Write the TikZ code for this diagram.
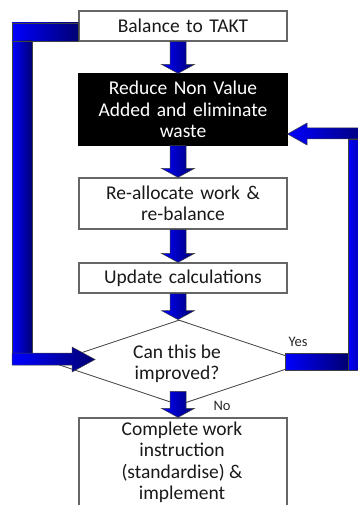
\documentclass[tikz,border=0pt]{standalone}
\usepackage{fontspec}
\setmainfont{Carlito}
\usetikzlibrary{calc,shapes.geometric}
\tikzset{
  txt/.style={font=\fontsize{19.5}{21.5}\selectfont, text=black!90},
  box/.style={draw=black!60, line width=1.2pt, fill=white, minimum width=208pt,
    text width=204pt, align=center, txt, inner sep=0pt},
  blackbox/.style={box, fill=black, draw=black, text=white},
  decision/.style={draw=black!75, line width=0.8pt, fill=white, shape=diamond,
    minimum width=254pt, minimum height=85pt, inner sep=0pt},
  band/.style={draw=black!75, line width=0.5pt, left color=blue, right color=blue!45!black},
  lbl/.style={font=\fontsize{14.5}{16}\selectfont, text=black!85, inner sep=0pt},
}
\newcommand\vblk[2]{%
  \path #1 coordinate (s) #2 coordinate (e);
  \draw[band] ($(s)+(-8,0)$) -- ($(s)+(8,0)$) -- ($(e)+(8,-9)$) -- ($(e)+(16.5,-9)$)
    -- (e) -- ($(e)+(-16.5,-9)$) -- ($(e)+(-8,-9)$) -- cycle;}
\begin{document}
\begin{tikzpicture}[x=1pt,y=-1pt]
\useasboundingbox (0,0) rectangle (358,505);
\begin{scope}
\clip (0,0) rectangle (358,505);
% nodes
\node[box, minimum height=30pt] (b1) at (183,26) {Balance to TAKT};
\node[blackbox, minimum height=71pt] (b2) at (183,109.5) {Reduce Non Value\\Added and eliminate\\waste};
\node[box, minimum height=51pt] (b3) at (183,203.5) {Re-allocate work \&\\re-balance};
\node[box, minimum height=30pt] (b4) at (183,278) {Update calculations};
\node[decision] (d) at (179,362.5) {};
\node[align=center, txt, inner sep=0pt] (dt) at (177,364) {Can this be\\improved?};
\node[draw=black!60, line width=1.2pt, fill=white, minimum width=208pt, minimum height=97pt] (b5) at (183,466.5) {};
\node[align=center, txt, inner sep=0pt] (b5t) at (182,462.5) {Complete work\\instruction\\(standardise) \&\\implement};
\coordinate (ax) at (178,0);
% vertical block arrows
\vblk{(ax |- b1.south)}{(ax |- b2.north)}
\vblk{(ax |- b2.south)}{(ax |- b3.north)}
\vblk{(ax |- b3.south)}{(ax |- b4.north)}
\vblk{(ax |- b4.south)}{(ax |- d.north)}
\coordinate (dn) at ($(ax |- b5.north)+(0,-26)$);
\vblk{(dn)}{(ax |- b5.north)}
% left loop (back to the decision)
\draw[band] (12,23) rectangle (b1.west |- 0,41);
\draw[band] (12,41) rectangle (32,353);
\draw[band] (12,353) -- (72,353) -- (72,347) -- (95,359.5) -- (72,372) -- (72,365) -- (12,365) -- cycle;
% right loop (Yes)
\draw[band] (285,353) rectangle (348,370);
\draw[band] (348,139) rectangle (370,370);
\draw[band] (b2.east |- 0,134) -- (307,123) -- (307,128) -- (370,128) -- (370,139) -- (307,139) -- (307,145) -- cycle;
% labels
\node[lbl] (yes) at (298,342) {Yes};
\node[lbl] (no) at (222,406) {No};
\end{scope}
\end{tikzpicture}
\end{document}
